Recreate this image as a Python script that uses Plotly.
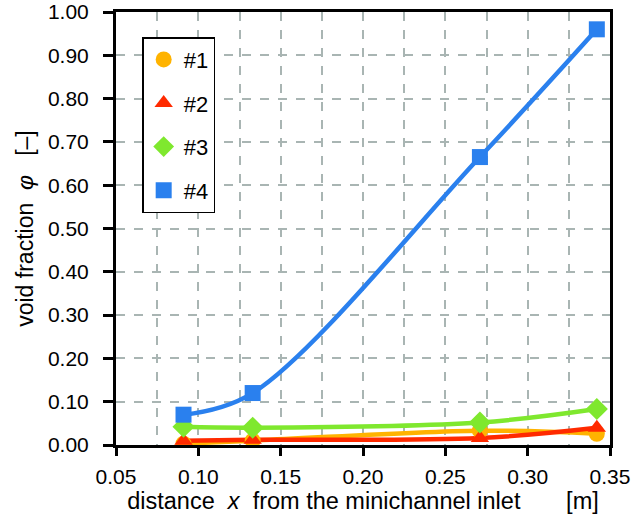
import plotly.graph_objects as go

x_pos = [0.091, 0.133, 0.271, 0.342]
s1 = [0.003, 0.010, 0.033, 0.026]
s2 = [0.010, 0.012, 0.016, 0.040]
s3 = [0.042, 0.040, 0.052, 0.083]
s4 = [0.070, 0.120, 0.665, 0.960]
names = ["#1", "#2", "#3", "#4"]
colors = ["#FFB300", "#FF2A00", "#7FE82E", "#2A80EE"]
symbols = ["circle", "triangle-up", "diamond", "square"]
series = [s1, s2, s3, s4]

fig = go.Figure()
for ys, c in zip(series, colors):
    fig.add_trace(go.Scatter(x=x_pos, y=ys, mode="lines", line=dict(color=c, width=4.5, shape="spline", smoothing=1),
                             showlegend=False, hoverinfo="skip"))
for i, (ys, c, sym, n) in enumerate(zip(series, colors, symbols, names)):
    fig.add_trace(go.Scatter(x=x_pos, y=ys, mode="markers", name=n, legendgroup=n,
                             marker=dict(color=c, symbol=sym, size=16 if sym != "diamond" else 17, line=dict(width=0))))

font = "Liberation Sans, Arial, sans-serif"
fig.update_layout(
    width=633, height=519,
    margin=dict(l=116, r=23, t=12, b=74),
    plot_bgcolor="white", paper_bgcolor="white",
    font=dict(family=font, size=21, color="black"),
    legend=dict(x=0.053, y=0.942, xanchor="left", yanchor="top", bordercolor="black", borderwidth=1.5,
                bgcolor="white", font=dict(size=22), traceorder="grouped", tracegroupgap=12, itemwidth=30),
    xaxis=dict(range=[0.05, 0.35], dtick=0.05, tick0=0.05, tickformat=".2f", automargin=False,
               showgrid=True, gridcolor="#A9B5B3", griddash="dash", gridwidth=2,
               minor=dict(dtick=0.025, showgrid=True, gridcolor="#A9B5B3", griddash="dash", gridwidth=2),
               showline=True, linecolor="black", linewidth=3, mirror=True,
               ticks="outside", ticklen=8, tickwidth=3, tickcolor="black",
               zeroline=False, ticklabelstandoff=3,
               title=dict(text="distance&nbsp;&nbsp;<i>x</i>&nbsp;&nbsp;from the minichannel inlet&nbsp;&nbsp;&nbsp;&nbsp;&nbsp;&nbsp;&nbsp;[m]",
                          font=dict(size=23.5), standoff=6)),
    yaxis=dict(range=[0, 1.0], dtick=0.1, tickformat=".2f", automargin=False,
               showgrid=True, gridcolor="#A9B5B3", griddash="dash", gridwidth=2,
               showline=True, linecolor="black", linewidth=3, mirror=True,
               ticks="outside", ticklen=10, tickwidth=3, tickcolor="black",
               zeroline=False, ticklabelstandoff=10,
               title=dict(text="void fraction&nbsp;&nbsp;<i>φ</i>&nbsp;&nbsp;&nbsp;[–]",
                          font=dict(size=23), standoff=8)),
)
fig.write_html("out.html", post_script="document.body.style.margin='0';", config={"displayModeBar": False})
